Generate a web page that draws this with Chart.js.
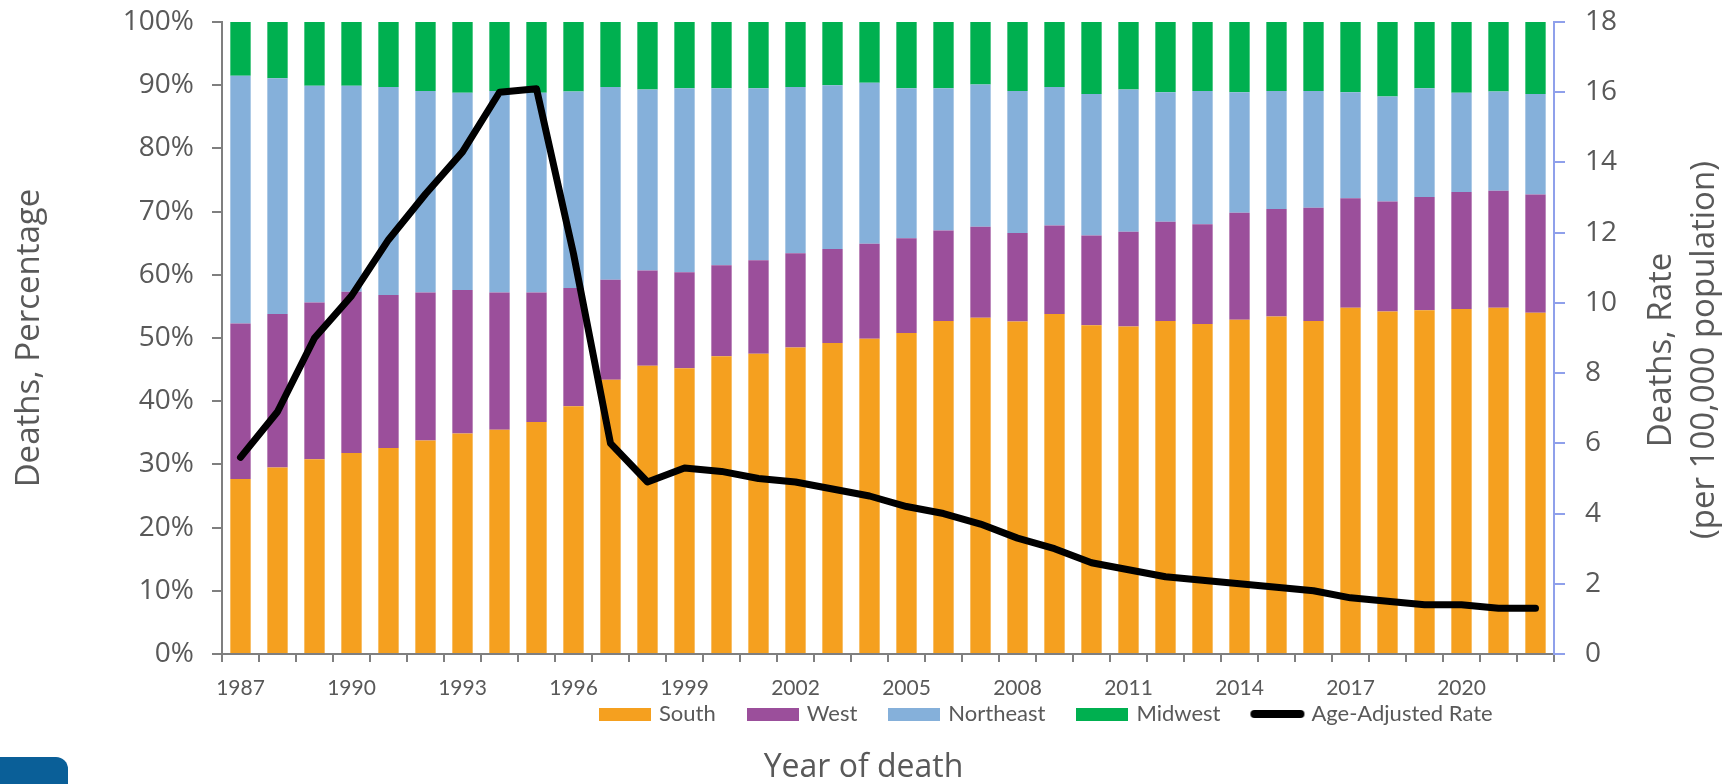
<!DOCTYPE html>
<html>
<head>
<meta charset="utf-8">
<script src="https://cdn.jsdelivr.net/npm/chart.js@4.4.0/dist/chart.umd.min.js"></script>
<style>
  body { margin: 0; background: #fff; }
  canvas { display: block; }
</style>
</head>
<body>
<canvas id="chart1" width="1727" height="784"></canvas>
<script>
// years of death
var years = ['1987', '1988', '1989', '1990', '1991', '1992', '1993', '1994', '1995', '1996',
  '1997', '1998', '1999', '2000', '2001', '2002', '2003', '2004', '2005', '2006',
  '2007', '2008', '2009', '2010', '2011', '2012', '2013', '2014', '2015', '2016',
  '2017', '2018', '2019', '2020', '2021', '2022'];

// share of deaths by region, percent
var south = [27.7, 29.5, 30.8, 31.8, 32.6, 33.8, 34.9, 35.5, 36.7, 39.2,
  43.4, 45.6, 45.2, 47.1, 47.5, 48.5, 49.2, 49.9, 50.8, 52.7,
  53.2, 52.6, 53.8, 52.0, 51.8, 52.7, 52.2, 52.9, 53.4, 52.7,
  54.8, 54.2, 54.4, 54.6, 54.8, 54.0];
var west = [24.6, 24.3, 24.8, 25.5, 24.2, 23.4, 22.7, 21.7, 20.5, 18.7,
  15.8, 15.1, 15.2, 14.4, 14.8, 14.9, 14.9, 15.0, 15.0, 14.3,
  14.4, 14.0, 14.0, 14.2, 15.0, 15.7, 15.8, 16.9, 17.0, 17.9,
  17.3, 17.4, 17.9, 18.5, 18.5, 18.7];
var northeast = [39.2, 37.3, 34.3, 32.6, 32.9, 31.9, 31.2, 31.9, 31.6, 31.1,
  30.5, 28.6, 29.1, 28.0, 27.2, 26.3, 25.9, 25.5, 23.7, 22.5,
  22.5, 22.5, 21.9, 22.4, 22.5, 20.5, 21.1, 19.1, 18.7, 18.5,
  16.8, 16.6, 17.2, 15.7, 15.7, 15.9];
var midwest = [8.5, 8.9, 10.1, 10.1, 10.3, 10.9, 11.2, 10.9, 11.2, 11.0,
  10.3, 10.7, 10.5, 10.5, 10.5, 10.3, 10.0, 9.6, 10.5, 10.5,
  9.9, 10.9, 10.3, 11.4, 10.7, 11.1, 10.9, 11.1, 10.9, 10.9,
  11.1, 11.8, 10.5, 11.2, 11.0, 11.4];

// age-adjusted death rate per 100,000
var rate = [5.6, 6.9, 9.0, 10.2, 11.8, 13.1, 14.3, 16.0, 16.1, 11.4,
  6.0, 4.9, 5.3, 5.2, 5.0, 4.9, 4.7, 4.5, 4.2, 4.0,
  3.7, 3.3, 3.0, 2.6, 2.4, 2.2, 2.1, 2.0, 1.9, 1.8,
  1.6, 1.5, 1.4, 1.4, 1.3, 1.3];

var grey = '#595959';
var axisGrey = '#7f7f7f';
var rightBlue = '#8fa0eb';

// little pictures for the legend keys
function boxSwatch(color) {
  var c = document.createElement('canvas');
  c.width = 52; c.height = 13;
  var g = c.getContext('2d');
  g.fillStyle = color;
  g.fillRect(0, 0, 52, 13);
  return c;
}
function lineSwatch(color) {
  var c = document.createElement('canvas');
  c.width = 56; c.height = 10;
  var g = c.getContext('2d');
  g.strokeStyle = color;
  g.lineWidth = 8;
  g.lineCap = 'round';
  g.beginPath();
  g.moveTo(5, 5);
  g.lineTo(51, 5);
  g.stroke();
  return c;
}
var swatches = [boxSwatch('#f5a01f'), boxSwatch('#9b4f9b'), boxSwatch('#85b0da'),
  boxSwatch('#00b050'), lineSwatch('#000000')];

// no extra room above/below the value axes for the tick labels
function noPad(scale) {
  scale.paddingTop = 0;
  scale.paddingBottom = 0;
  scale.paddingLeft = 0;
  scale.paddingRight = 0;
}

var extras = {
  id: 'extras',
  afterLayout: function (chart) {
    // move the legend row to where it sits in the picture
    var lg = chart.legend;
    var pad = lg.options.labels.padding;
    lg.left = 568;
    lg.right = chart.width;
    lg.top = 714 - pad - 11;
    lg.bottom = lg.top + 70;
  },
  afterDraw: function (chart) {
    var ctx = chart.ctx;
    var area = chart.chartArea;
    var mid = (area.top + area.bottom) / 2 + 12;
    ctx.save();
    ctx.fillStyle = grey;
    ctx.font = '33px "Open Sans"';
    ctx.textAlign = 'center';
    ctx.textBaseline = 'middle';
    [['Deaths, Rate', area.right + 108], ['(per 100,000 population)', area.right + 151]].forEach(function (t) {
      ctx.save();
      ctx.translate(t[1], mid);
      ctx.rotate(-Math.PI / 2);
      ctx.fillText(t[0], 0, 0);
      ctx.restore();
    });
    // corner of the blue badge at the bottom left
    ctx.fillStyle = '#0a5f98';
    ctx.beginPath();
    ctx.roundRect(-14, 757, 82, 45, 12);
    ctx.fill();
    ctx.restore();
  }
};

var graph = document.getElementById('chart1');

var myChart = new Chart(graph, {
  type: 'bar',
  data: {
    labels: years,
    datasets: [{
      label: 'South',
      data: south,
      backgroundColor: '#f5a01f',
      order: 1
    }, {
      label: 'West',
      data: west,
      backgroundColor: '#9b4f9b',
      order: 1
    }, {
      label: 'Northeast',
      data: northeast,
      backgroundColor: '#85b0da',
      order: 1
    }, {
      label: 'Midwest',
      data: midwest,
      backgroundColor: '#00b050',
      order: 1
    }, {
      type: 'line',
      label: 'Age-Adjusted Rate',
      data: rate,
      yAxisID: 'y1',
      borderColor: '#000000',
      backgroundColor: '#000000',
      borderWidth: 7,
      borderJoinStyle: 'round',
      borderCapStyle: 'round',
      pointRadius: 0,
      fill: false,
      order: 0
    }]
  },
  options: {
    responsive: false,
    animation: false,
    layout: { padding: { top: 22, left: 0, right: 0, bottom: 0 } },
    datasets: {
      bar: { categoryPercentage: 1, barPercentage: 0.55, borderWidth: 0 }
    },
    scales: {
      x: {
        stacked: true,
        grid: { offset: true, drawOnChartArea: false, tickLength: 8, color: axisGrey, lineWidth: 2 },
        border: { color: axisGrey, width: 2 },
        ticks: {
          autoSkip: false,
          maxRotation: 0,
          padding: 14,
          color: grey,
          font: { family: 'Lato', size: 21 },
          callback: function (val, i) { return i % 3 === 0 ? years[i] : ''; }
        },
        afterFit: function (scale) {
          var ch = scale.chart;
          var used = (ch.legend ? ch.legend.height : 0) + (ch.titleBlock ? ch.titleBlock.height : 0);
          scale.height = ch.height - 654 - used;
          noPad(scale);
        }
      },
      y: {
        stacked: true,
        min: 0,
        max: 100,
        grid: { drawOnChartArea: false, tickLength: 10, color: axisGrey, lineWidth: 2 },
        border: { color: axisGrey, width: 2 },
        ticks: {
          stepSize: 10,
          padding: 18,
          color: grey,
          font: { family: 'Open Sans', size: 28 },
          callback: function (v) { return v + '%'; }
        },
        title: {
          display: true,
          text: 'Deaths, Percentage',
          color: grey,
          font: { family: 'Open Sans', size: 33 },
          padding: { top: 10, bottom: 0 }
        },
        afterFit: function (scale) { scale.width = 222; noPad(scale); }
      },
      y1: {
        position: 'right',
        min: 0,
        max: 18,
        grid: { drawOnChartArea: false, tickLength: 11, color: rightBlue, lineWidth: 2 },
        border: { color: rightBlue, width: 2 },
        ticks: {
          stepSize: 2,
          padding: 20,
          color: grey,
          font: { family: 'Open Sans', size: 28 }
        },
        afterFit: function (scale) { scale.width = 173; noPad(scale); }
      }
    },
    plugins: {
      legend: {
        position: 'bottom',
        align: 'start',
        maxHeight: 20,
        labels: {
          usePointStyle: true,
          pointStyleWidth: 46,
          padding: 34,
          color: grey,
          font: { family: 'Lato', size: 22 },
          sort: function (a, b) { return a.datasetIndex - b.datasetIndex; },
          generateLabels: function (chart) {
            var items = Chart.defaults.plugins.legend.labels.generateLabels(chart);
            items.forEach(function (item) {
              item.pointStyle = swatches[item.datasetIndex];
              item.rotation = 0;
            });
            return items;
          }
        }
      },
      title: {
        display: true,
        position: 'bottom',
        text: 'Year of death',
        color: grey,
        font: { family: 'Open Sans', size: 32, weight: 'normal', lineHeight: 1 },
        padding: 0
      },
      tooltip: { enabled: false }
    }
  },
  plugins: [extras]
}); // ends the chart
</script>
</body>
</html>
